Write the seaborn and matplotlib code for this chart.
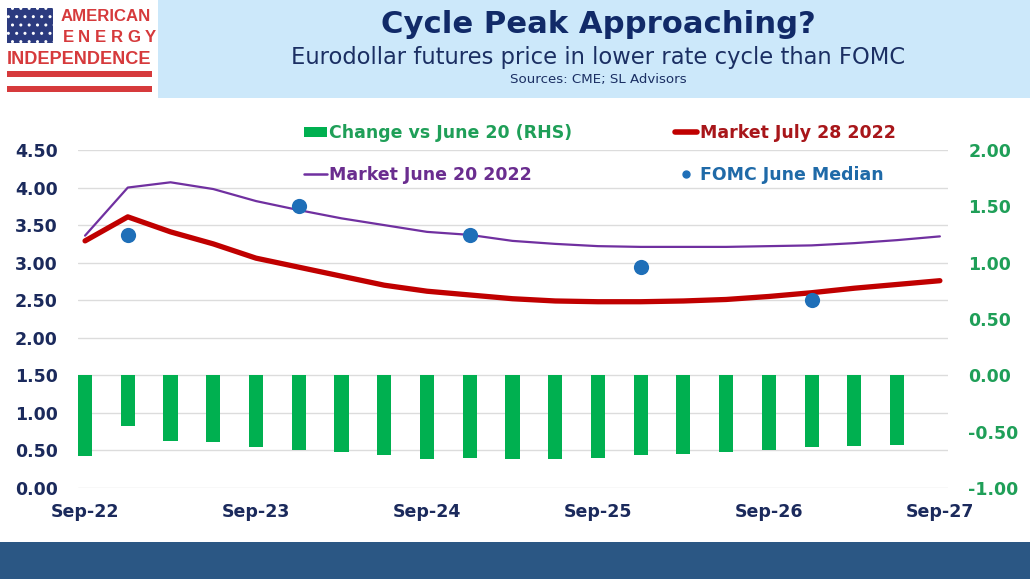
import numpy as np
import pandas as pd
import matplotlib
matplotlib.use("Agg")
import matplotlib.pyplot as plt
import seaborn as sns
from matplotlib.patches import Rectangle, Patch
from matplotlib.lines import Line2D

# ---------------- data ----------------
quarters = ["Sep-22", "Dec-22", "Mar-23", "Jun-23", "Sep-23", "Dec-23", "Mar-24",
            "Jun-24", "Sep-24", "Dec-24", "Mar-25", "Jun-25", "Sep-25", "Dec-25",
            "Mar-26", "Jun-26", "Sep-26", "Dec-26", "Mar-27", "Jun-27", "Sep-27"]
market_jul28 = [3.29, 3.61, 3.41, 3.25, 3.06, 2.94, 2.82, 2.70, 2.62, 2.57, 2.52,
                2.49, 2.48, 2.48, 2.49, 2.51, 2.55, 2.60, 2.66, 2.71, 2.76]
market_jun20 = [3.36, 4.00, 4.07, 3.98, 3.82, 3.70, 3.59, 3.50, 3.41, 3.37, 3.29,
                3.25, 3.22, 3.21, 3.21, 3.21, 3.22, 3.23, 3.26, 3.30, 3.35]
change_quarters = quarters[:20]
change_vs_jun20 = [-0.72, -0.45, -0.58, -0.59, -0.64, -0.66, -0.68, -0.71, -0.74, -0.73,
                   -0.74, -0.74, -0.73, -0.71, -0.70, -0.68, -0.66, -0.64, -0.63, -0.62]
fomc_quarters = ["Dec-22", "Dec-23", "Dec-24", "Dec-25", "Dec-26"]
fomc_median = [3.375, 3.75, 3.375, 2.94, 2.50]
left_ticks = [0.0, 0.5, 1.0, 1.5, 2.0, 2.5, 3.0, 3.5, 4.0, 4.5]
right_ticks = [-1.0, -0.5, 0.0, 0.5, 1.0, 1.5, 2.0]
x_tick_labels = ["Sep-22", "Sep-23", "Sep-24", "Sep-25", "Sep-26", "Sep-27"]

title = "Cycle Peak Approaching?"
subtitle = "Eurodollar futures price in lower rate cycle than FOMC"
source = "Sources: CME; SL Advisors"

# ---------------- style ----------------
sns.set_style("white")
plt.rcParams["font.family"] = ["DejaVu Sans"]

NAVY = "#1b2a5c"
GREEN_BAR = "#00b050"
GREEN_TXT = "#1f9f58"
RED = "#c00000"
RED_TXT = "#a8161a"
PURPLE = "#7030a0"
PURPLE_TXT = "#6a2d8f"
BLUE = "#1f6fb8"
BLUE_TXT = "#1f6aa8"

W, H = 1030, 579
fig = plt.figure(figsize=(W / 100, H / 100), dpi=100)
fig.patch.set_facecolor("white")


def fx(px):
    return px / W


def fy(py):
    return 1 - py / H


renderer = fig.canvas.get_renderer()


def fit_text(t, width_px):
    bb = t.get_window_extent(renderer=renderer)
    t.set_fontsize(t.get_fontsize() * width_px / bb.width)


# ---------------- header ----------------
fig.add_artist(Rectangle((fx(158), fy(98)), fx(W - 158), 98 / H,
                         transform=fig.transFigure, facecolor="#cce8fa",
                         edgecolor="none", zorder=0))
fig.add_artist(Rectangle((0, 0), 1, 37 / H, transform=fig.transFigure,
                         facecolor="#2b5784", edgecolor="none", zorder=0))

cx = fx(598)
t1 = fig.text(cx, fy(33), title, ha="center", va="baseline", fontsize=20,
              fontweight="bold", color="#112a68")
fit_text(t1, 435)
t2 = fig.text(cx, fy(64), subtitle, ha="center", va="baseline", fontsize=15,
              color="#1b2f63")
fit_text(t2, 613)
t3 = fig.text(cx, fy(83), source, ha="center", va="baseline", fontsize=9,
              color="#1b2f63")
fit_text(t3, 178)

# logo
LOGO_RED = "#d63a3c"
fig.add_artist(Rectangle((fx(7), fy(43)), fx(46), 35 / H, transform=fig.transFigure,
                         facecolor="#2c3b7f", edgecolor="white", hatch="..",
                         linewidth=0, zorder=1))
for y0 in (71, 86):
    fig.add_artist(Rectangle((fx(7), fy(y0 + 6)), fx(145), 6 / H,
                             transform=fig.transFigure, facecolor=LOGO_RED,
                             edgecolor="none", zorder=1))
la = fig.text(fx(61), fy(21), "AMERICAN", ha="left", va="baseline", fontsize=11,
              fontweight="bold", color=LOGO_RED, family="Liberation Sans")
fit_text(la, 90)
li = fig.text(fx(7), fy(63.5), "INDEPENDENCE", ha="left", va="baseline", fontsize=11,
              fontweight="bold", color=LOGO_RED, family="Liberation Sans")
fit_text(li, 144)
for k, ch in enumerate("ENERGY"):
    fig.text(fx(68 + k * 16.4), fy(42.5), ch, ha="center", va="baseline",
             fontsize=la.get_fontsize(), fontweight="bold", color=LOGO_RED,
             family="Liberation Sans")

# ---------------- chart ----------------
ax = fig.add_axes([fx(78), fy(488), fx(870), 338 / H])
ax2 = ax.twinx()   # bars on the right axis, drawn above the gridlines

pos = {q: i for i, q in enumerate(quarters)}
df_lines = pd.DataFrame({"pos": [pos[q] for q in quarters],
                         "jul": market_jul28, "jun": market_jun20})
df_bars = pd.DataFrame({"pos": [pos[q] for q in change_quarters],
                        "chg": change_vs_jun20})
df_fomc = pd.DataFrame({"pos": [pos[q] for q in fomc_quarters],
                        "fomc": fomc_median})

sns.barplot(data=df_bars, x="pos", y="chg", ax=ax2, native_scale=True,
            width=0.33, color=GREEN_BAR, saturation=1, linewidth=0,
            errorbar=None)
sns.lineplot(data=df_lines, x="pos", y="jun", ax=ax, color=PURPLE, linewidth=1.6)
sns.lineplot(data=df_lines, x="pos", y="jul", ax=ax, color=RED, linewidth=3.8)
sns.scatterplot(data=df_fomc, x="pos", y="fomc", ax=ax, color=BLUE, s=120,
                linewidth=0, zorder=5)

ax.set_ylim(0, 4.5)
ax2.set_ylim(-1, 2)
ax.set_xlim(-0.165, 20.19)
ax.set_xticks([pos[q] for q in x_tick_labels])
ax.set_xticklabels(x_tick_labels)
ax.set_yticks(left_ticks)
ax.set_yticklabels([f"{v:.2f}" for v in left_ticks])
ax2.set_yticks(right_ticks)
ax2.set_yticklabels([f"{v:.2f}".replace("\u2212", "-") for v in right_ticks])

ax.grid(axis="y", color="#dcdcdc", linewidth=1)
ax.grid(axis="x", visible=False)
ax2.grid(False)
for a in (ax, ax2):
    for s in a.spines.values():
        s.set_visible(False)
    a.set_xlabel("")
    a.set_ylabel("")
ax.tick_params(axis="y", length=0, pad=14.5, labelsize=12.5, labelcolor=NAVY)
ax.tick_params(axis="x", length=0, pad=11, labelsize=12.5, labelcolor=NAVY)
ax2.tick_params(axis="y", length=0, pad=14.5, labelsize=12.5, labelcolor=GREEN_TXT)
for lab in ax.get_xticklabels() + ax.get_yticklabels() + ax2.get_yticklabels():
    lab.set_fontweight("bold")

# ---------------- legend ----------------
handles = [
    Patch(facecolor=GREEN_BAR, edgecolor="none"),
    Line2D([], [], color=PURPLE, linewidth=1.8),
    Line2D([], [], color=RED, linewidth=4),
    Line2D([], [], color=BLUE, marker="o", linestyle="none", markersize=5),
]
labels = ["Change vs June 20 (RHS)", "Market June 20 2022",
          "Market July 28 2022", "FOMC June Median"]
leg = fig.legend(handles, labels, ncol=2, loc="upper left",
                 bbox_to_anchor=(fx(304), fy(124)), frameon=False,
                 prop={"weight": "bold", "size": 12.5},
                 handlelength=1.3, handleheight=0.5, handletextpad=0.15,
                 columnspacing=5.9, labelspacing=1.38, borderpad=0,
                 borderaxespad=0)
for txt, c in zip(leg.get_texts(), [GREEN_TXT, PURPLE_TXT, RED_TXT, BLUE_TXT]):
    txt.set_color(c)

fig.savefig("out.png", dpi=100, facecolor="white")
